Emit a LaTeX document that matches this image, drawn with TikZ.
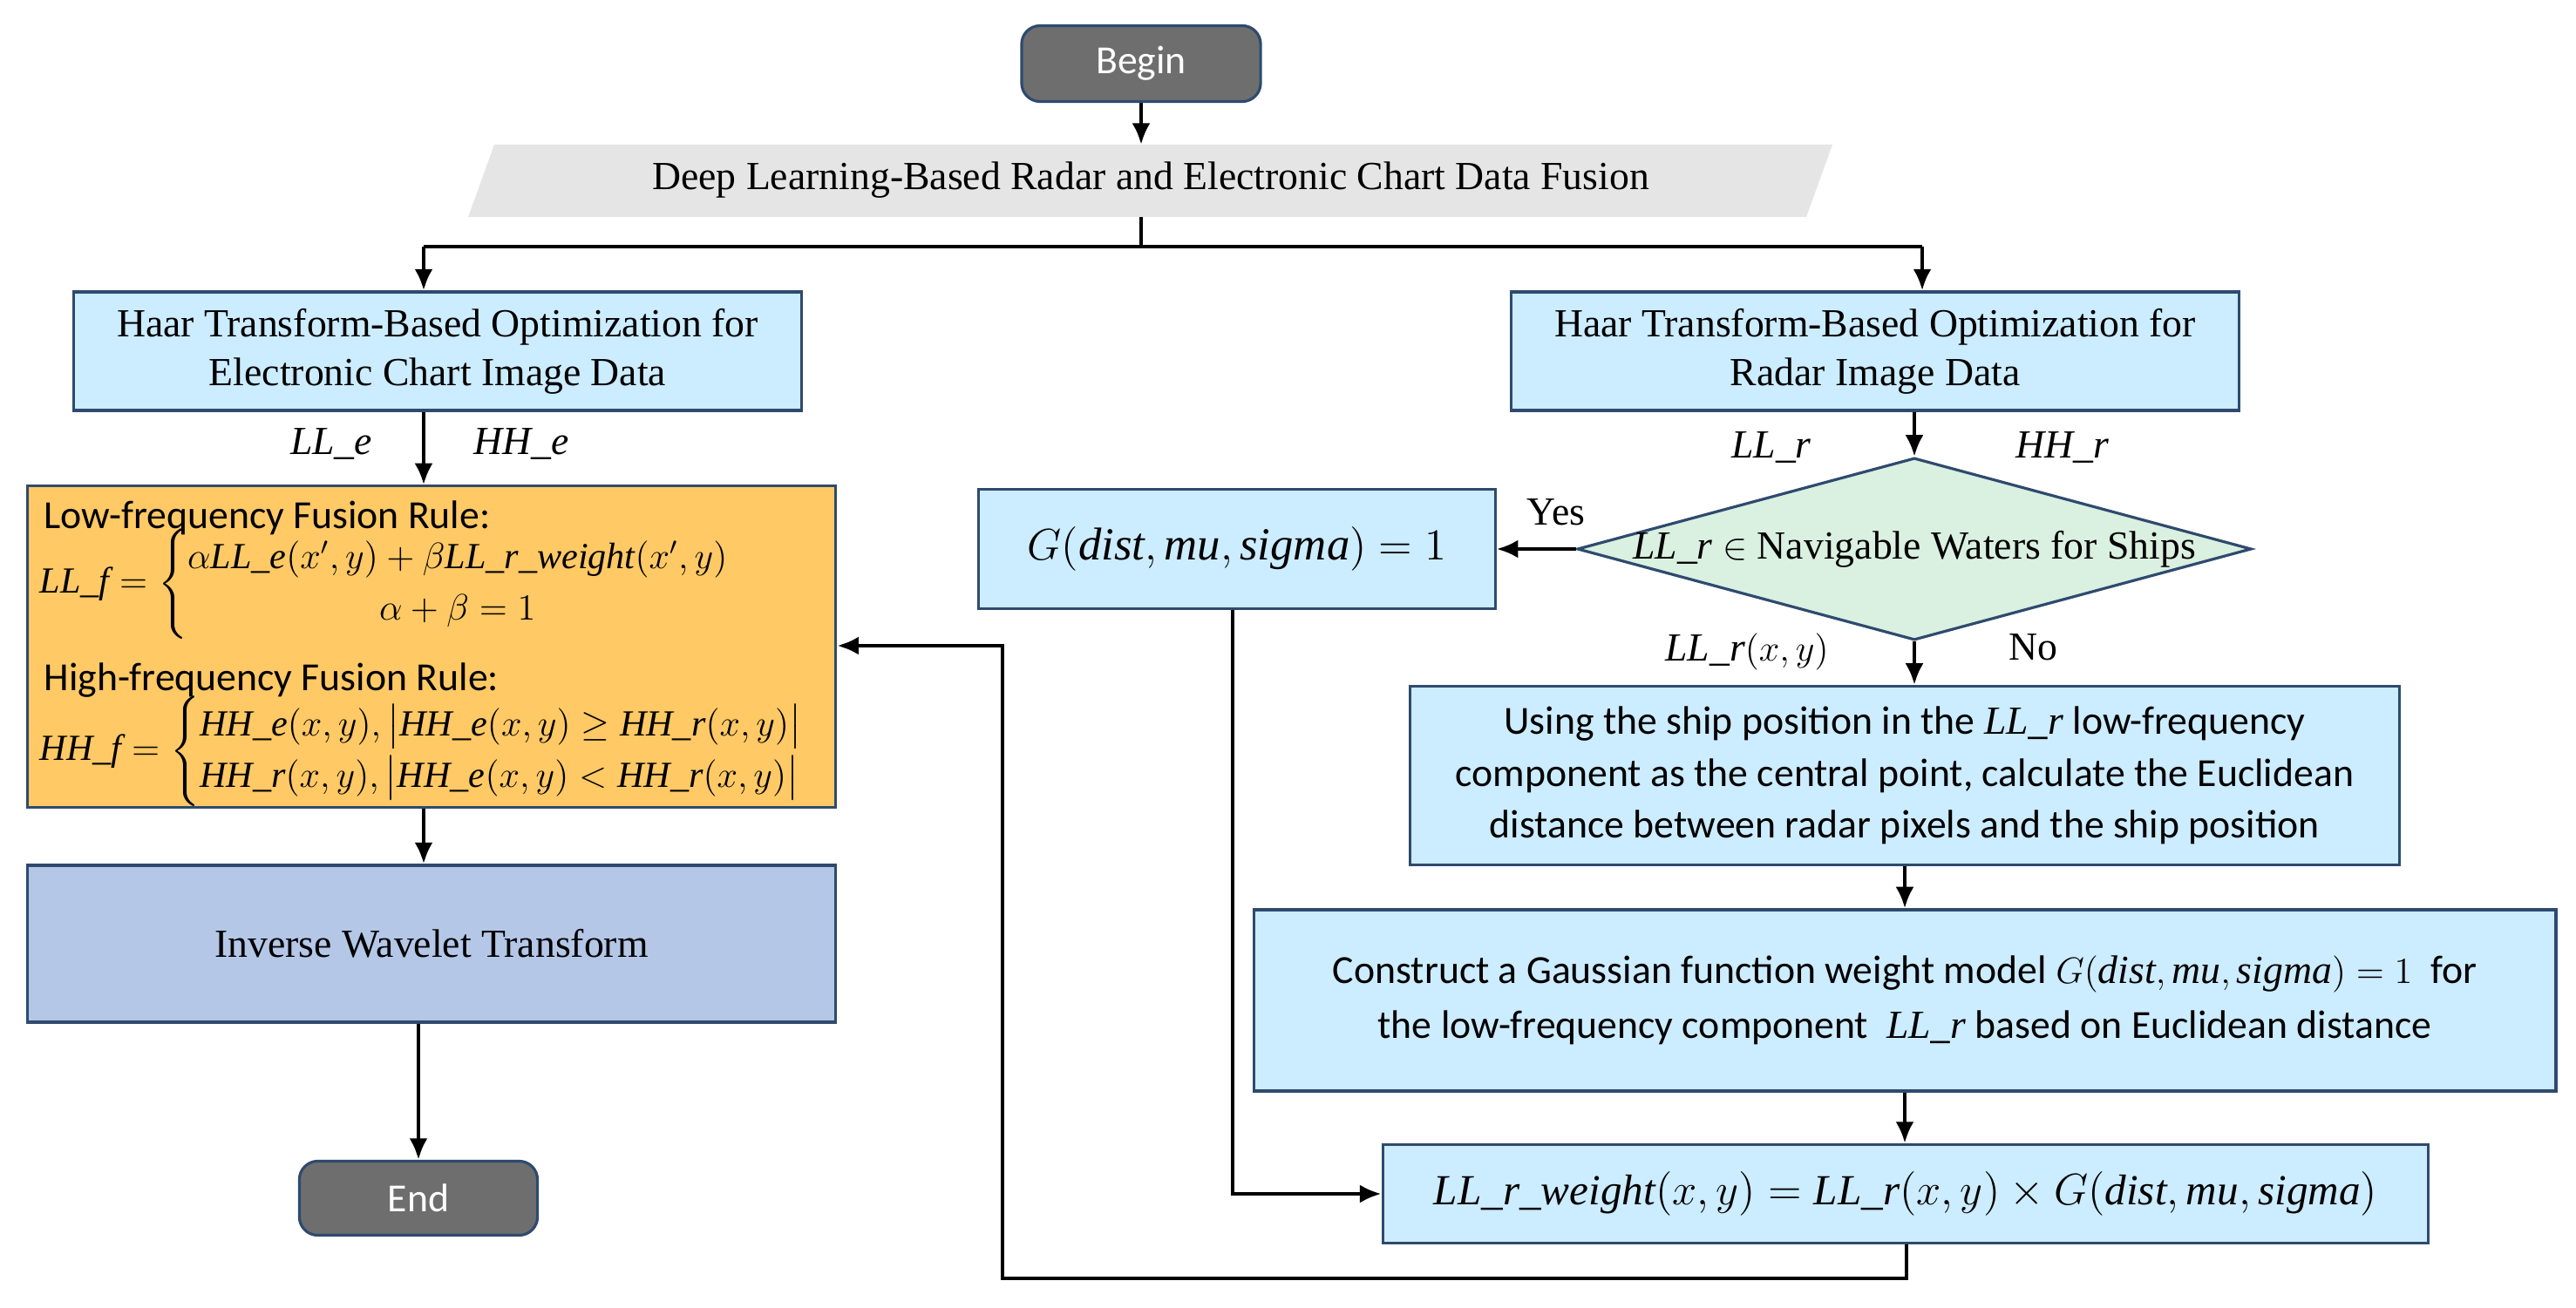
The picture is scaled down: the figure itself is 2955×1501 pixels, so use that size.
\documentclass[tikz,border=0pt]{standalone}
\usepackage{amsmath}
\usepackage{fontspec}
\setmainfont{Liberation Serif}
\newfontfamily\calfont{Carlito}
\usetikzlibrary{arrows.meta,shapes.geometric}
\definecolor{lblue}{HTML}{CCECFF}
\definecolor{bord}{HTML}{2F4A6E}
\definecolor{orng}{HTML}{FFC965}
\definecolor{lav}{HTML}{B4C7E7}
\definecolor{dgrey}{HTML}{6E6E6E}
\definecolor{lgrn}{HTML}{DAF0E0}
\begin{document}
\begin{tikzpicture}[x=0.01cm,y=-0.01cm,
  font=\fontsize{13}{16}\selectfont,
  bx/.style={draw=bord,line width=0.9pt,fill=lblue,align=center,inner sep=0pt},
  term/.style={draw=bord,line width=0.9pt,fill=dgrey,rounded corners=6pt,text=white,font=\calfont\fontsize{13}{16}\selectfont},
  ar/.style={line width=1.3pt,-{Latex[length=7pt,width=6pt]}},
  ln/.style={line width=1.3pt},
  lab/.style={inner sep=1pt}]
\useasboundingbox (0,0) rectangle (2955,1501);
% Begin
\node[term,minimum width=2.74cm,minimum height=0.87cm] (begin) at (1309,73) {Begin};
% banner
\fill[gray!20] (567,166) -- (2102,166) -- (2072,249) -- (537,249) -- cycle;
\node (banner) at (1320,207) {Deep Learning-Based Radar and Electronic Chart Data Fusion};
\coordinate (btop) at (1309,166);
\coordinate (bb) at (1309,249);
\coordinate (bj) at (1309,283);
\coordinate (jl) at (486,283);
\coordinate (jr) at (2205,283);
% top boxes
\node[bx,minimum width=8.35cm,minimum height=1.36cm] (le) at (502,403) {Haar Transform-Based Optimization for\\Electronic Chart Image Data};
\node[bx,minimum width=8.35cm,minimum height=1.36cm] (ri) at (2151,403) {Haar Transform-Based Optimization for\\Radar Image Data};
% orange
\node[bx,fill=orng,minimum width=9.27cm,minimum height=3.68cm] (fus) at (495,742) {};
\node[anchor=north west,font=\calfont\fontsize{13}{16}\selectfont,inner sep=0pt] (t1) at (50,574) {Low-frequency Fusion Rule:};
\node[anchor=west,inner sep=0pt,font=\fontsize{12}{14}\selectfont] (e1) at (45,670) {$\mathit{LL\_f}=\begin{cases}\alpha \mathit{LL\_e}(x',y)+\beta \mathit{LL\_r\_weight}(x',y)\\ \hfill\alpha+\beta=1\hfill\end{cases}$};
\node[anchor=north west,font=\calfont\fontsize{13}{16}\selectfont,inner sep=0pt] (t2) at (50,760) {High-frequency Fusion Rule:};
\node[anchor=west,inner sep=0pt,font=\fontsize{12}{14}\selectfont] (e2) at (45,862) {$\mathit{HH\_f}=\begin{cases}\mathit{HH\_e}(x,y),\big|\mathit{HH\_e}(x,y)\geq \mathit{HH\_r}(x,y)\big|\\ \mathit{HH\_r}(x,y),\big|\mathit{HH\_e}(x,y)< \mathit{HH\_r}(x,y)\big|\end{cases}$};
\node[bx,fill=lav,minimum width=9.27cm,minimum height=1.8cm] (inv) at (495,1083) {Inverse Wavelet Transform};
\node[term,minimum width=2.73cm,minimum height=0.85cm] (end) at (480,1375) {End};
% right side
\node[diamond,draw=bord,line width=0.9pt,fill=lgrn,minimum width=7.73cm,minimum height=2.09cm,aspect=3.7,inner sep=0pt] (dia) at (2196,630) {};
\node at (2196,630) {$\mathit{LL\_r}\in$ Navigable Waters for Ships};
\node[bx,minimum width=5.92cm,minimum height=1.37cm,font=\fontsize{15}{18}\selectfont] (g) at (1419,630) {$G(\mathit{dist},\mathit{mu},\mathit{sigma})=1$};
\node[bx,minimum width=11.35cm,minimum height=2.05cm,font=\calfont\fontsize{13}{17}\selectfont] (b3) at (2185,890) {Using the ship position in the $\mathit{LL\_r}$ low-frequency\\component as the central point, calculate the Euclidean\\distance between radar pixels and the ship position};
\node[bx,minimum width=14.93cm,minimum height=2.08cm,font=\calfont\fontsize{13}{18}\selectfont] (b4) at (2185,1148) {Construct a Gaussian function weight model $G(\mathit{dist},\mathit{mu},\mathit{sigma})=1$ \ for\\the low-frequency component \ $\mathit{LL\_r}$ based on Euclidean distance};
\node[bx,minimum width=11.99cm,minimum height=1.13cm,font=\fontsize{14}{17}\selectfont] (b5) at (2186,1370) {$\mathit{LL\_r\_weight}(x,y)=\mathit{LL\_r}(x,y)\times G(\mathit{dist},\mathit{mu},\mathit{sigma})$};
% labels
\node[lab] (l1) at (380,509) {$\mathit{LL\_e}$};
\node[lab] (l2) at (598,509) {$\mathit{HH\_e}$};
\node[lab] (l3) at (2032,513) {$\mathit{LL\_r}$};
\node[lab] (l4) at (2366,513) {$\mathit{HH\_r}$};
\node[lab] (l5) at (1785,588) {Yes};
\node[lab] (l6) at (2332,743) {No};
\node[lab] (l7) at (2004,748) {$\mathit{LL\_r}(x,y)$};
% connectors
\draw[ar] (begin) -- (btop);
\draw[ln] (bb) -- (bj);
\draw[ln] (jl) -- (jr);
\draw[ar] (jl) -- (jl|-le.north);
\draw[ar] (jr) -- (jr|-ri.north);
\draw[ar] (le.south-|jl) -- (jl|-fus.north);
\draw[ar] (fus.south-|jl) -- (inv.north-|jl);
\draw[ar] (inv.south-|end) -- (end);
\draw[ar] (ri.south-|dia) -- (dia.north);
\draw[ar] (dia.west) -- (g.east);
\draw[ar] (dia.south) -- (dia.south|-b3.north);
\draw[ar] (b3.south) -- (b3.south|-b4.north);
\draw[ar] (b4.south) -- (b4.south|-b5.north);
\coordinate (gc) at (1414,1370);
\draw[ar] (g.south-|gc) -- (gc) -- (b5.west);
\coordinate (f1) at (2187,1467);
\coordinate (f2) at (1150,1467);
\coordinate (f3) at (1150,741);
\draw[ar] (b5.south-|f1) -- (f1) -- (f2) -- (f3) -- (f3-|fus.east);
\end{tikzpicture}
\end{document}
